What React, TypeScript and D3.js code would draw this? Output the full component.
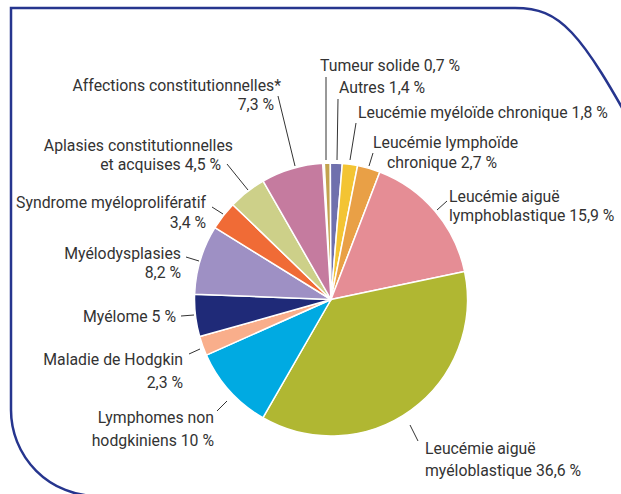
import React from "react";
import * as d3 from "d3";

const categories = [
  "Tumeur solide",
  "Autres",
  "Leucémie myéloïde chronique",
  "Leucémie lymphoïde chronique",
  "Leucémie aiguë lymphoblastique",
  "Leucémie aiguë myéloblastique",
  "Lymphomes non hodgkiniens",
  "Maladie de Hodgkin",
  "Myélome",
  "Myélodysplasies",
  "Syndrome myéloprolifératif",
  "Aplasies constitutionnelles et acquises",
  "Affections constitutionnelles*",
];
const values = [0.7, 1.4, 1.8, 2.7, 15.9, 36.6, 10, 2.3, 5, 8.2, 3.4, 4.5, 7.3];
const colors = [
  "#c3a24e", "#6f70ad", "#f3c433", "#e9a046", "#e58d95", "#b0b732",
  "#00aae2", "#f9ae8b", "#1f2a78", "#9e90c4", "#f06b36", "#cdd089", "#c57b9f",
];
const labelLines = [
  ["Tumeur solide 0,7 %"],
  ["Autres 1,4 %"],
  ["Leucémie myéloïde chronique 1,8 %"],
  ["Leucémie lymphoïde", "chronique 2,7 %"],
  ["Leucémie aiguë", "lymphoblastique 15,9 %"],
  ["Leucémie aiguë", "myéloblastique 36,6 %"],
  ["Lymphomes non", "hodgkiniens 10 %"],
  ["Maladie de Hodgkin", "2,3 %"],
  ["Myélome 5 %"],
  ["Myélodysplasies", "8,2 %"],
  ["Syndrome myéloprolifératif", "3,4 %"],
  ["Aplasies constitutionnelles", "et acquises 4,5 %"],
  ["Affections constitutionnelles*", "7,3 %"],
];

// layout (annotation positions)
const labelPos: { anchor: string; pts: [number, number][] }[] = [
  { anchor: "start", pts: [[320, 71]] },
  { anchor: "start", pts: [[339, 93]] },
  { anchor: "start", pts: [[358, 118]] },
  { anchor: "start", pts: [[373, 148], [387, 168]] },
  { anchor: "start", pts: [[449, 202], [449, 221]] },
  { anchor: "start", pts: [[425, 454], [425, 476]] },
  { anchor: "end", pts: [[214, 423], [214, 446]] },
  { anchor: "end", pts: [[183, 365], [183, 388]] },
  { anchor: "end", pts: [[176, 322]] },
  { anchor: "end", pts: [[181, 259], [181, 278]] },
  { anchor: "end", pts: [[206, 208], [206, 228]] },
  { anchor: "end", pts: [[233, 151], [221, 170]] },
  { anchor: "end", pts: [[281, 91], [274, 110]] },
];
const leaders: [number, number, number, number][] = [
  [326, 77, 326, 160],
  [338, 99, 337, 160],
  [356, 123, 350, 160],
  [373, 153, 369, 166],
  [447, 201, 437, 210],
  [410, 425, 418, 441],
  [227, 401, 217, 411],
  [200, 349, 189, 354],
  [194, 315, 181, 316],
  [199, 261, 186, 257],
  [223, 214, 212, 207],
  [248, 190, 227, 164],
  [295, 166, 278, 96],
];

export default function App() {
  const W = 621, H = 494;
  const cx = 331, cy = 299.5, R = 136.5;
  const total = d3.sum(values);
  const start = (-2.8 * Math.PI) / 180;
  const pie = d3
    .pie<number>()
    .sort(null)
    .startAngle(start)
    .endAngle(start + (2 * Math.PI * total) / 100);
  const arcs = pie(values);
  const arc = d3.arc<d3.PieArcDatum<number>>().innerRadius(0).outerRadius(R);

  const framePath =
    "M 11 410 L 11 8 L 515 8 C 560 8 580 30 640 140 M 11 410 A 86 86 0 0 0 97 496";

  return (
    <svg width={W} height={H} style={{ position: "absolute", left: 0, top: 0, background: "#fff" }}>
      <path d={framePath} fill="none" stroke="#26358e" strokeWidth={2.5} />
      <g transform={`translate(${cx},${cy})`}>
        {arcs.map((a, i) => (
          <path key={i} d={arc(a) || ""} fill={colors[i]} stroke="#fff" strokeWidth={1.5} strokeLinejoin="round" />
        ))}
      </g>
      {leaders.map((l, i) => (
        <line key={i} x1={l[0]} y1={l[1]} x2={l[2]} y2={l[3]} stroke="#333" strokeWidth={1} />
      ))}
      {labelLines.map((lines, i) => (
        <text
          key={i}
          fontFamily="Roboto, 'Liberation Sans', Arial, sans-serif"
          fontSize={15.8}
          fill="#333"
          textAnchor={labelPos[i].anchor}
        >
          {lines.map((t, j) => (
            <tspan key={j} x={labelPos[i].pts[j][0]} y={labelPos[i].pts[j][1]}>
              {t}
            </tspan>
          ))}
        </text>
      ))}
    </svg>
  );
}
